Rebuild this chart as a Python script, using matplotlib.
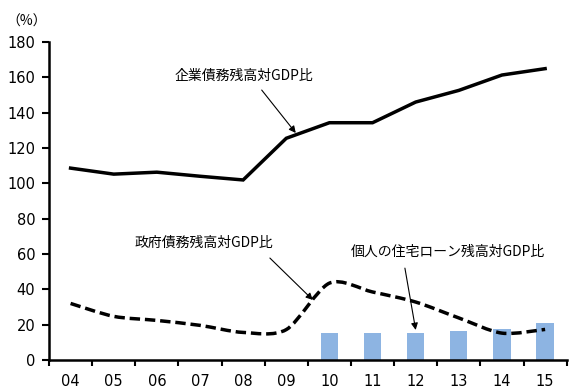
import matplotlib

matplotlib.use("Agg")

import numpy as np
import matplotlib.pyplot as plt
from matplotlib.path import Path
from matplotlib.patches import PathPatch

plt.rcParams["font.family"] = ["Noto Sans CJK JP", "DejaVu Sans"]

years = ["04", "05", "06", "07", "08", "09", "10", "11", "12", "13", "14", "15"]
corporate = [108.6, 105.2, 106.3, 104.0, 101.9, 125.5, 134.3, 134.3, 146.0, 152.6, 161.3, 164.9]
government = [32.0, 24.7, 22.4, 19.6, 15.6, 17.2, 43.5, 38.5, 32.8, 23.8, 15.2, 17.3]
housing_years = ["10", "11", "12", "13", "14", "15"]
housing = [15.1, 15.1, 15.1, 16.5, 17.8, 21.1]

x = np.arange(len(years))
hx = np.array([years.index(y) for y in housing_years])


def smooth_path(xs, ys, t=1 / 7):
    # cubic bezier through the points (Catmull-Rom style control points)
    pts = np.column_stack([xs, ys]).astype(float)
    verts = [pts[0]]
    codes = [Path.MOVETO]
    n = len(pts)
    for i in range(n - 1):
        p0 = pts[max(i - 1, 0)]
        p1 = pts[i]
        p2 = pts[i + 1]
        p3 = pts[min(i + 2, n - 1)]
        c1 = p1 + (p2 - p0) * t
        c2 = p2 - (p3 - p1) * t
        verts += [c1, c2, p2]
        codes += [Path.CURVE4] * 3
    return Path(verts, codes)


fig = plt.figure(figsize=(5.72, 3.88), dpi=100)
ax = fig.add_axes([0.0857, 0.0722, 0.905, 0.8196])

ax.bar(hx, housing, width=0.4, color="#8db4e2", zorder=1)
ax.plot(x, corporate, color="black", lw=2.5, solid_joinstyle="miter", zorder=3)
ax.add_patch(PathPatch(smooth_path(x, government), fill=False, ec="black",
                       lw=2.5, ls=(0, (3.0, 1.4)), zorder=3))

ax.set_xlim(-0.5, len(years) - 0.5)
ax.set_ylim(0, 180)
ax.set_yticks(range(0, 181, 20))
ax.set_xticks(x)
ax.set_xticklabels(years)
ax.set_xticks(np.arange(-0.5, len(years)), minor=True)
ax.tick_params(axis="x", which="major", length=0, pad=10, labelsize=10.5)
ax.tick_params(axis="x", which="minor", length=4, width=1.5, direction="out")
ax.tick_params(axis="y", length=5, width=1.5, direction="out", labelsize=10.5, pad=5)
for lab in ax.get_xticklabels() + ax.get_yticklabels():
    lab.set_family("DejaVu Sans")

for side in ["top", "right"]:
    ax.spines[side].set_visible(False)
for side in ["left", "bottom"]:
    ax.spines[side].set_linewidth(1.8)

fig.text(0.012, 0.945, "（%）", fontsize=10, ha="left", va="center")

arrow = dict(arrowstyle="-|>", color="black", lw=0.8, mutation_scale=10, shrinkA=0, shrinkB=0)
label_style = dict(fontsize=10, ha="center", va="center")

ax.text(4.02, 160.7, "企業債務残高対GDP比", **label_style)
ax.annotate("", xy=(5.22, 128.5), xytext=(4.43, 152.8), arrowprops=arrow)

ax.text(3.09, 66.2, "政府債務残高対GDP比", **label_style)
ax.annotate("", xy=(5.615, 34.0), xytext=(4.62, 57.7), arrowprops=arrow)

ax.text(8.74, 61.1, "個人の住宅ローン残高対GDP比", **label_style)
ax.annotate("", xy=(8.0, 17.0), xytext=(7.75, 52.0), arrowprops=arrow)

fig.savefig("out.png", dpi=100)
